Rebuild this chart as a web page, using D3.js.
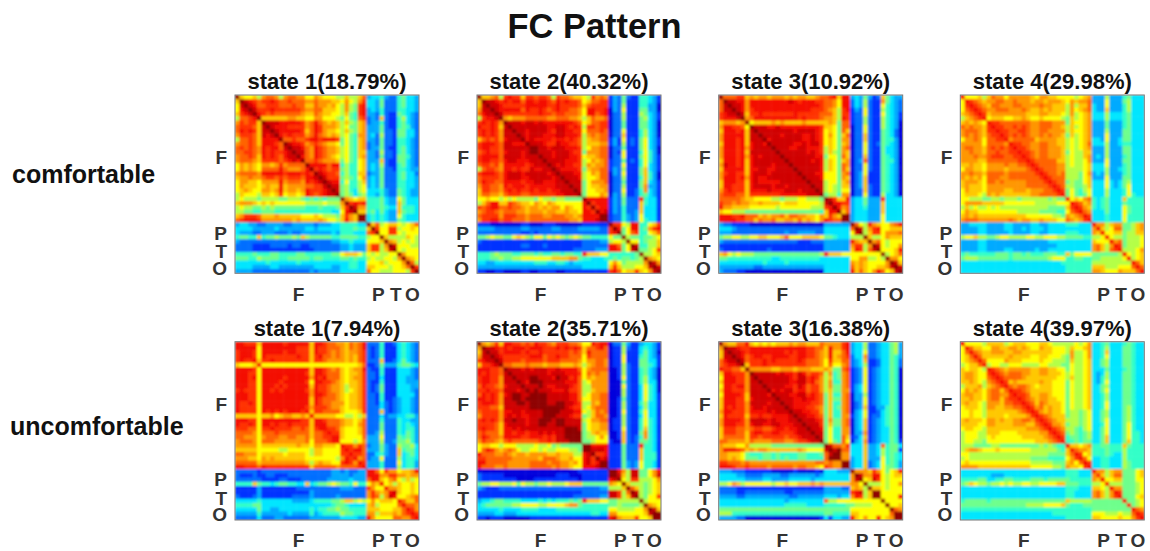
<!DOCTYPE html>
<html lang="en">
<head>
<meta charset="utf-8">
<title>FC Pattern</title>
<script src="https://cdn.jsdelivr.net/npm/d3@7"></script>
<style>
html, body { margin: 0; padding: 0; background: #fff; }
svg { display: block; }
text { font-family: "Liberation Sans", Arial, sans-serif; font-weight: bold; fill: #111; }
.axis text { font-size: 19px; fill: #333; }
.axis path { display: none; }
</style>
</head>
<body>
<div id="chart"></div>
<script>
// levels are hex digits, 0 = deep blue ... f = maroon, lower triangle only (matrices are symmetric)
var rowLabels = ["comfortable", "uncomfortable"];
var stateTitles = [
  ["state 1(18.79%)", "state 2(40.32%)", "state 3(10.92%)", "state 4(29.98%)"],
  ["state 1(7.94%)", "state 2(35.71%)", "state 3(16.38%)", "state 4(39.97%)"]
];
var tickLabels = ["F", "P", "T", "O"];
var xTickNodes = [14.4, 32.6, 36.6, 40.4];
var yTickNodes = [14.7, 32.5, 36.9, 40.8];
var jetStops = ["#0000dc", "#0032ff", "#006eff", "#00aaff", "#00e6ff", "#32ffc8", "#6eff8c", "#b4ff46",
  "#ffff00", "#ffc800", "#ff9600", "#ff6400", "#ff3200", "#f40800", "#d00000", "#8e0000"];

var comfortable1 = ["f","9f","8ef","8def","9cdef","7bbcdf","acbcc9 f","bcccb9 ef","bdcdc9 eef","acccb9 edef","7bbcb9 ddddf",
"abbcb9 dddcbf","bcbcba dcddbe f","bbccba dcdccd ef","abbcb9 dcdcbd eef","abbba9 ccccbc dedf","8a9a98 aa9aca bbbbf",
"8a9a98 bbbbdb aaabdf","abbbba dddddc dddcdc f","9aabaa bccbcb cccbdd ef","8aa998 aaaada bbbadc def","8a9998 9a99d9 aaaabb ccef",
"89a988 aa9ad9 aa9adc ccdef","798887 9989c8 9989dc bcdeef","787776 777766 777656 565666 f","9aaa98 989888 888877 778777 af",
"787766 767666 666655 565556 9cf","776655 666555 555555 555544 8def","9acccb 999a99 999888 987776 9ca9f","bcdddc aaaaaa a9a999 9a9887 9da9ff",
"344332 233332 233333 233344 555544 f","444433 333433 333344 344444 555655 9f","433322 333222 322333 333343 555444 bcf",
"566559 566766 676976 666655 666655 788f","322222 222222 222222 222233 445444 8889f","222211 112222 122112 222222 334333 9cc7af",
"222211 111111 111111 222222 334333 9cc79e f","555565 556655 556655 555566 899986 878778 8f","666557 666655 666665 665555 665655 787788 7af",
"444444 454444 445444 444444 445544 888978 88af","444433 334433 333333 444433 445544 998887 889bf","333322 222222 222223 233333 444444 b88777 8887cf"];

var comfortable2 = ["f","9f","9ef","aeef","bdeef","7cddef","cdcdca f","dccdc9 ef","cdcdca eef","cdcdca eeef","9bcbca deeef",
"cdddcb eedddf","cddccb eeeeee f","bcdccb deeede ff","cddddb eeeede eef","cddccb deeddd eeef","bccbca dddddc deeef",
"7bccba ddcdcc eddeef","cdddcb deeede eeeede f","bccccb deeedd eeeeed ef","bdccbb ddddcd deeddd eef","accbba dcdddc dddddd eeef",
"9ccbba cdcdcc dcddcd deeef","9bbaa9 bcccbb cccccc ddeeef","889887 878777 768776 776666 f","79bdd9 9cba99 8a98a9 888888 df",
"cbcddb bcbba9 aa9a9a a8a988 dcf","abccba bbbaa9 aaa9aa 99a998 ddcf","bcccca cccbba bbbaab bbaa9a ddddf","accddb ccbbba bbbbbb bbbaa9 dddeff",
"111000 000011 000111 000000 111111 f","333322 222233 222223 322223 333322 cf","222222 222211 212222 222222 222222 cdf",
"667877 668987 688687 876787 665555 866f","211111 111111 111111 111111 222233 7887f","111111 111122 111211 111111 222222 ddb68f",
"111111 111111 111111 111122 222333 ddc68e f","555676 665566 656556 656655 d99988 555555 6f","555667 667788 888889 999aa6 554445 565665 67f",
"443344 444444 455544 554344 444444 8a8677 77af","333333 333333 333333 333333 444444 9c9777 889ef","110011 000011 001111 001111 111111 cdb899 c98aef"];

var comfortable3 = ["f","bf","bef","beef","cdeef","cdddef","9aaa9a f","addccb 8f","9dddcd 9ef","addddd 9eef","adddcd 9eeef",
"9dddcd 9deedf","adddcd adeeee f","adddcd 9eeeee ef","adddcd adedee eef","9dddcd 9deeee eeef","aeddcd 9deeee deeef",
"9ddddd 9ddeed deeeef","acddcc 9deeed eeeeee f","adddcd adedde eeeeee ef","9dddcc 9deddd ddeeee eef","9ddccc 9deeee deedee eeef",
"acdccc 9dddde dddeee deeef","bcccbb 9ccccc ccdddd ddeeef","bbbbba 998888 776777 887776 f","cbbaba a99a99 998999 888887 ef",
"daa999 988888 878888 888777 cdf","988777 666666 666666 666665 9ddf","dddccd bbb9a9 aab9bb aa998a 9ca9f","ddddcc bb9baa b99aa9 b9a98a dcbbff",
"322111 100000 000000 000000 333333 f","444322 222222 222222 222222 444444 bf","333222 222222 222322 333322 444444 8ef",
"677887 788998 889b88 899998 665444 777f","322222 222222 222222 111222 333333 da99f","111111 111111 111111 111111 333333 acc7af",
"211111 111112 111111 111111 333333 9dc7be f","9a8787 776666 666666 666667 d99988 888888 8f","665555 555555 445555 555554 444444 88aa77 87f",
"444444 444454 444544 444444 444444 a9a988 88af","333333 332233 333333 333333 444444 b9a988 99aef","322211 000000 000000 000000 444444 d9b98a db89ef"];

var comfortable4 = ["d","8d","8cd","8bcd","9abcd","79abcd","9a9a98 d","babaa9 cd","abbba9 ccd","ababa9 bccd","8aaba8 bbccd",
"aaaaa8 bbbbad","abbaa9 bcbcbc d","aabaa9 bbcbbc cd","aaabaa bcccbb ccd","aaaa99 bbbbbb bccd","99a998 aaaaba abbcd",
"8aa998 aaaa9a aaabcd","aabaa9 bbbbab bbbbbc d","a9a9a8 bbbaab bbbbbb cd","9aaa98 bbabaa aaabbb bcd","9a9998 aaaaaa aaabbb bbcd",
"8a9998 aaaa99 aaa9aa abbcd","899987 a9a999 9999aa bbbbcd","887776 677677 767777 776766 d","8aaaa9 999988 888887 777788 8d",
"797877 878777 777777 776666 9cd","8a9988 888888 877777 666655 8bcd","9a9a99 999999 999888 888776 a9abd","abbbaa aaaaab a9aa99 a99988 ba9acd",
"334444 333344 333344 334444 555444 d","333344 333344 334344 434444 444444 ad","333344 333334 333344 334444 555444 a9d",
"788977 667887 777887 788877 666655 778d","333344 333333 333333 334444 444444 9888d","333344 333333 333333 333344 444444 ab97ad",
"333344 333344 333334 334444 444444 ab97bc d","565555 556665 665655 566655 968888 666666 7d","677766 666665 666666 667888 556655 667777 78d",
"444444 444444 444444 444445 555555 777777 777d","444444 444444 444444 444444 555555 999777 888bd","444444 444444 444444 444444 555555 aa9888 a999bd"];

var uncomfortable1 = ["d","dd","cdd","cddd","cdccd","98889d","ddddc8 d","dddcc8 dd","dddcd8 ddd","dddcc8 dddd","dddcc8 dddcd",
"cdccc8 ddcdcd","dddcc8 dddddd d","dddcc8 dddddd dd","dccdc8 dddddd ddd","dcccc8 dddddd dddd","dcccc8 dcdcdc dddcd",
"999998 99a89a a99a9d","dddcc8 dddddd dddcc9 d","dccdc8 ddcdcc dcccc9 dd","cccbb8 ccdccc cbbcb9 cdd","bbbba8 bbbcbb bbbbb9 bbcd",
"bbaaa8 abbbaa bbaab9 bbccd","abbba8 bbbaaa aaaab8 bbbcdd","aaaaa8 999999 99a998 aa9998 d","999998 888877 888887 998888 cd",
"bbaaa8 999998 999987 998888 ccd","aaa998 a9a999 999988 888887 adcd","bbbbb9 aaaaaa aaaa97 9a9988 cdcad","ddcccb dccccc ccccc9 bbbbba bbbbcd",
"222221 222222 222222 222233 232233 d","211121 122111 222222 222233 332333 dd","222222 111122 111222 222333 334333 bdd",
"555596 554566 554494 566787 665855 8a9d","111113 111111 112222 222222 333222 ca88d","111113 111111 111113 222222 222222 aca9ad",
"211123 111111 122223 222223 222222 acb7ae d","444445 444444 433334 555566 799787 8a8999 8d","555566 444444 444444 444456 654444 9a7888 8bd",
"444446 443344 444445 455667 665555 999888 99bd","333335 333333 433335 345555 766555 aa7999 a9bcd","222224 222332 222223 333333 444433 da8888 bbaacd"];

var uncomfortable2 = ["f","af","9ef","aeef","cdeef","9ccdef","dddccb f","dcdccb ef","cddcca eef","cddcca eeef","bdccba deeef",
"ccdccb eeedef","bdcdca deffee f","ddcdca eeffef ff","cdddca eeeffe fff","cccbb9 eeeeee ffff","bcccca ddeede eeeff",
"acccca dededd eeefff","cdcdca eefeed eefffe f","ccccb9 deeeed eeffee ff","cdccb9 ddedee eeeeee eef","bcbbb9 ddcddc ddeded eeff",
"bdcbba ddddcc dddcdc eefff","acbba9 bcbbbb bbccdc eeefff","899887 888777 787786 766666 f","8bdca9 aba877 887877 888776 ff",
"dbbbaa ba9aa9 aaaa99 a99977 def","ccbbbb bbaaaa aa9bbb a99a88 decf","ddbbbb baaaaa bbbbab baa9a8 decdf","dbbbaa baaaaa bbbbba baa988 dddeff",
"000000 000000 000000 000001 111111 f","211111 000000 000000 111000 111111 ff","211111 111000 011111 111110 111111 def",
"677887 778687 767787 778999 666666 a98f","321112 222222 222222 222222 222233 7779f","111111 111111 111111 111111 222222 eec7bf",
"111111 111111 111111 111122 222233 eec79e f","344566 555544 445454 555656 d99988 667777 7f","456666 667788 887788 889aa6 555555 667666 67f",
"444445 444455 554444 555555 555555 887777 88af","333344 333444 444444 444444 445544 aa8888 889ef","110111 000000 111111 111111 111111 dea999 c889ff"];

var uncomfortable3 = ["f","af","9ef","9eef","bdeef","bcddef","dccbb9 f","9ddccc af","8dddcc aef","9dddcc aeef","8ddcdd aeeef",
"9ddccc aeeeef","8ddddc 9eeeed f","9dddcc 9deeee ef","9dddcc aeeeed eef","9dcdcc adeede eeef","addccc adddde deeef",
"9dcccc 9ccdcc ddddef","addddc aeeeed edddee f","adddcc adeedd eeddde ef","9cccbb abccbb cddcdd eef","9cccbb 9cddcc ddcccd eeef",
"9bbbbb 9ccbcc cccbcc deeef","bbaaaa 9baaaa bbbaab ccdeef","a99988 a77777 666666 666666 f","adddcb 9a9aa9 999999 a98888 ef",
"aa9998 655566 565555 665556 bef","aa9a98 666566 565655 665555 bfff","ccbbba baaaaa aaaaaa aaaabb abaaf","dddcbb cbbbba bbbbba bbaa98 cbaaff",
"333222 111111 000001 000010 444333 f","444433 222233 332233 333323 444444 af","444444 333344 333344 444344 444444 aef",
"778a97 888888 788988 999a9a 999999 aa8f","222211 111111 111111 111111 333322 9a97f","222211 222222 222112 222222 333333 cde79f",
"333322 333333 333322 333333 444344 adc79f f","444444 444444 444344 444444 b77888 888888 8f","444444 444444 444555 554444 555556 677778 88f",
"666666 666666 666666 666666 666666 888888 888f","777555 555555 555555 555555 665555 998888 888bf","333322 000000 000000 000001 414433 d98a88 d89aff"];

var uncomfortable4 = ["d","8d","8bd","89bd","89abd","7899bd","989987 d","9aa988 cd","9aa988 bcd","99a987 abcd","7999a7 9abcd",
"8a9a98 abb9bd","9aa998 abbaac d","99a998 abb9bc cd","9a9987 aaa9bb ccd","899987 aa99aa bbcd","889887 999999 9abcd",
"889887 999989 999acd","9a9998 aa9a99 aabbac d","999988 aa9999 aaa99b cd","899887 999999 999aaa bcd","788877 999888 899999 aacd",
"788877 898888 889999 9abcd","788776 888888 888889 99abcd","777666 677666 666666 767655 d","79aa98 889888 888877 777765 9d",
"887777 777777 777777 776666 9bd","787777 777777 777766 665555 8acd","898888 888888 888877 777666 9a8bd","aaaa99 999999 999988 888776 a998cd",
"444444 444444 444444 444444 555444 d","444444 433344 444444 444444 555444 ac","555566 445566 555566 656666 655555 a9d",
"679877 677878 778877 888899 666555 778d","444444 444444 444444 444444 555444 9987d","444444 444444 444444 444444 554444 ab97ad",
"444444 444444 444444 444444 554444 ab97ac d","566666 566666 666666 666666 977777 666666 6d","666666 666666 666777 788889 655566 666666 66d",
"555555 555555 555555 555555 555555 666666 666d","444444 444444 444444 444555 555555 888777 877bd","444444 444444 444444 444444 555555 998888 988acd"];

var matrices = [
  [comfortable1, comfortable2, comfortable3, comfortable4],
  [uncomfortable1, uncomfortable2, uncomfortable3, uncomfortable4]
];

var width = 1150, height = 551;
var panelLeft = [235, 477, 718.7, 960.3];
var panelTop = [95, 341.7];
var labelY = [183, 435];
var panelW = 184, panelH = 178.3;
var n = 42;

var svg = d3.select("#chart").append("svg").attr("width", width).attr("height", height);

var defs = svg.append("defs");
defs.append("clipPath").attr("id", "panel-clip").append("rect")
  .attr("width", panelW).attr("height", panelH);
// the reference is an upscaled bitmap, so the cells get a soft edge
defs.append("filter").attr("id", "soft")
  .attr("x", "-5%").attr("y", "-5%").attr("width", "110%").attr("height", "110%")
  .append("feGaussianBlur").attr("stdDeviation", 0.9);

svg.append("text").attr("x", 594.5).attr("y", 38).attr("text-anchor", "middle")
  .style("font-size", "34.4px").text("FC Pattern");

var x = d3.scaleBand().domain(d3.range(n)).range([0, panelW]);
var y = d3.scaleBand().domain(d3.range(n)).range([0, panelH]);
var xTick = d3.scaleLinear().domain([0, n]).range([0, panelW]);
var yTick = d3.scaleLinear().domain([0, n]).range([0, panelH]);
var colour = d3.scaleLinear().domain(d3.range(16)).range(jetStops);

function toCells(rows) {
  var clean = rows.map(function(r) { return r.replace(/ /g, ""); });
  var cells = [];
  clean.forEach(function(r, i) {
    r.split("").forEach(function(ch, j) {
      var v = parseInt(ch, 16);
      cells.push({row: i, col: j, value: v});
      if (i != j) cells.push({row: j, col: i, value: v});
    });
  });
  return cells;
}

rowLabels.forEach(function(label, r) {
  svg.append("text").attr("x", r == 0 ? 12 : 10).attr("y", labelY[r])
    .style("font-size", "25px").text(label);

  matrices[r].forEach(function(rows, c) {
    var g = svg.append("g").attr("transform", "translate(" + panelLeft[c] + "," + panelTop[r] + ")");

    g.append("text").attr("x", panelW / 2).attr("y", -6).attr("text-anchor", "middle")
      .style("font-size", "22px").text(stateTitles[r][c]);

    g.append("g").attr("clip-path", "url(#panel-clip)")
      .append("g").attr("filter", "url(#soft)")
      .selectAll("rect").data(toCells(rows)).enter().append("rect")
      .attr("x", function(d) { return x(d.col); })
      .attr("y", function(d) { return y(d.row); })
      .attr("width", x.bandwidth() + 0.5)
      .attr("height", y.bandwidth() + 0.5)
      .attr("fill", function(d) { return colour(d.value); });

    g.append("rect").attr("width", panelW).attr("height", panelH)
      .attr("fill", "none").attr("stroke", "#777").attr("stroke-width", 1);

    g.append("g").attr("class", "axis").attr("transform", "translate(0," + panelH + ")")
      .call(d3.axisBottom(xTick).tickValues(xTickNodes).tickSize(0).tickPadding(14)
        .tickFormat(function(d, i) { return tickLabels[i]; }));

    g.append("g").attr("class", "axis")
      .call(d3.axisLeft(yTick).tickValues(yTickNodes).tickSize(0).tickPadding(8)
        .tickFormat(function(d, i) { return tickLabels[i]; }));
  });
});
</script>
</body>
</html>
